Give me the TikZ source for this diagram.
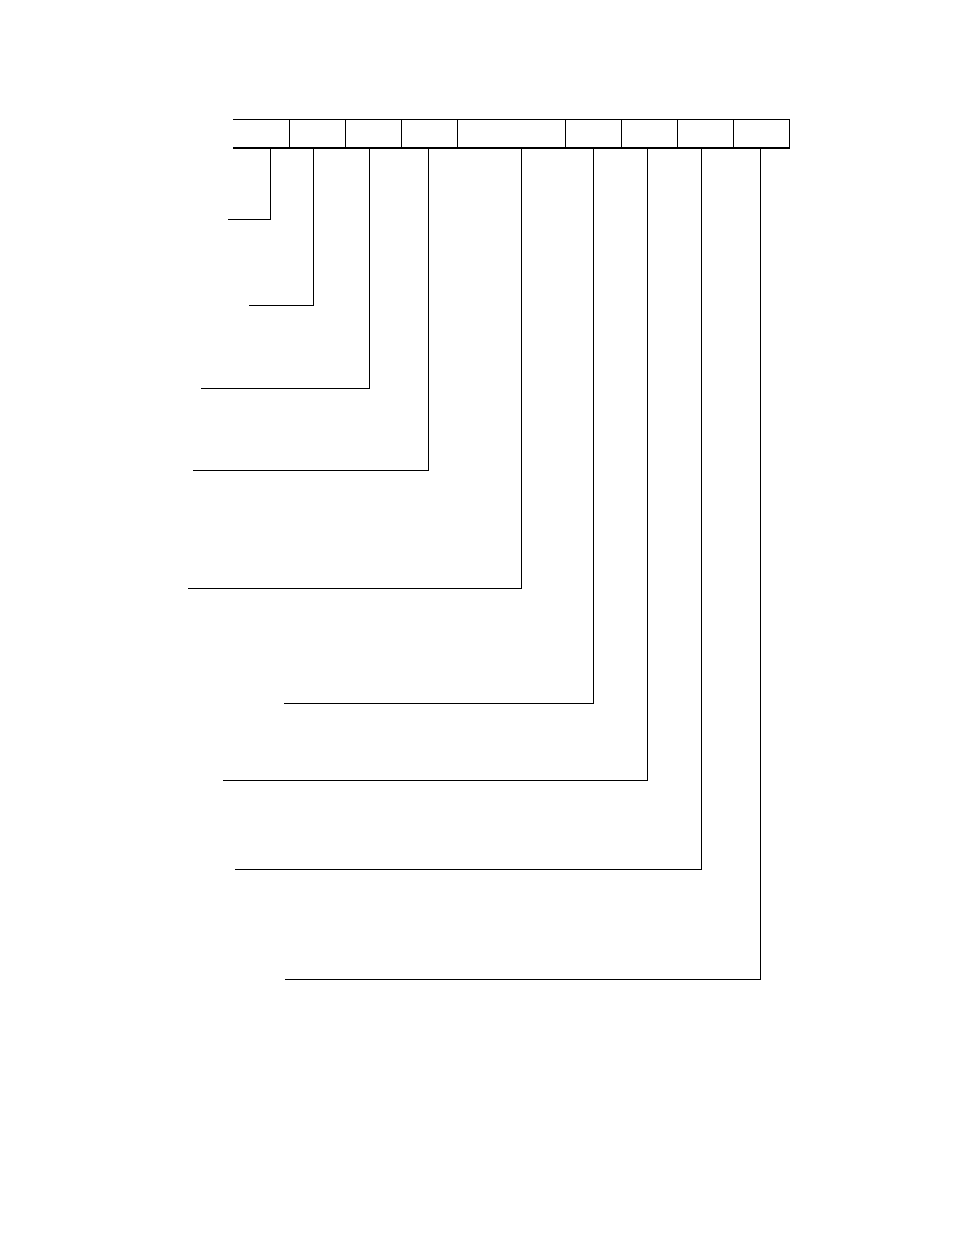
\documentclass[tikz,border=0pt]{standalone}
\begin{document}
\begin{tikzpicture}[x=1pt,y=-1pt,
    cellline/.style={line width=1pt},
    lead/.style={draw, line width=1pt}]
      \useasboundingbox (0,0) rectangle (954,1235);

      % row of fields
      \draw[cellline] (233,119) -- (790,119);
      \draw[line width=2pt] (233,148) -- (790,148);
      \foreach \x in {289,345,401,457,565,621,677,733,789}
        \draw[cellline] (\x,119) -- (\x,148);

      \begin{scope}
        \coordinate (t1) at (270,148);
        \coordinate (t2) at (313,148);
        \coordinate (t3) at (369,148);
        \coordinate (t4) at (428,148);
        \coordinate (t5) at (521,148);
        \coordinate (t6) at (593,148);
        \coordinate (t7) at (647,147);
        \coordinate (t8) at (701,148);
        \coordinate (t9) at (760,148);
        \coordinate (e1) at (228,219);
        \coordinate (e2) at (249,305);
        \coordinate (e3) at (201,388);
        \coordinate (e4) at (193,470);
        \coordinate (e5) at (188,588);
        \coordinate (e6) at (284,703);
        \coordinate (e7) at (223,780);
        \coordinate (e8) at (235,869);
        \coordinate (e9) at (285,979);
      \end{scope}

      \begin{scope}[every path/.style={lead}]
        \path (t1) |- (e1);
        \path (t2) |- (e2);
        \path (t3) |- (e3);
        \path (t4) |- (e4);
        \path (t5) |- (e5);
        \path (t6) |- (e6);
        \path (t7) |- (e7);
        \path (t8) |- (e8);
        \path (t9) |- (e9);
      \end{scope}

    \end{tikzpicture}
\end{document}
